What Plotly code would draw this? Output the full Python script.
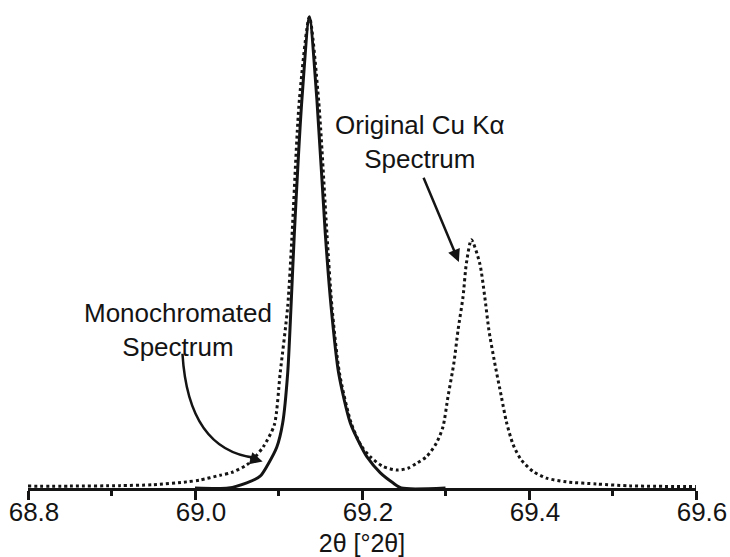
import plotly.graph_objects as go

# Diffraction angle 2theta (deg) and relative intensity (%) for the unfiltered Cu K-alpha doublet
orig_x = [68.80, 68.85, 68.91, 68.95, 68.99, 69.006, 69.03, 69.044, 69.062, 69.072,
          69.082, 69.095, 69.102, 69.111, 69.116, 69.125, 69.137, 69.148, 69.158, 69.164,
          69.173, 69.187, 69.199, 69.210, 69.225, 69.242, 69.255, 69.265, 69.277, 69.289,
          69.297, 69.303, 69.310, 69.315, 69.321, 69.325, 69.331, 69.341, 69.347, 69.352,
          69.359, 69.367, 69.373, 69.381, 69.391, 69.405, 69.421, 69.445, 69.481,
          69.521, 69.60]
orig_y = [0.4, 0.4, 0.5, 0.7, 1.3, 1.7, 2.7, 3.3, 4.9, 6.6,
          8.8, 13.4, 24.4, 38.5, 53.0, 82.4, 100, 82.4, 54.0, 38.5,
          24.4, 13.8, 9.0, 6.6, 4.6, 3.8, 4.2, 5.2, 6.6, 9.5,
          13.0, 19.4, 26.5, 33.5, 40.6, 47.7, 52.7, 47.7, 40.6, 33.5,
          26.5, 19.3, 14.0, 9.2, 5.9, 3.5, 2.1, 1.3, 0.85,
          0.45, 0.3]

# Monochromated (K-alpha1 only) profile
mono_x = [69.00, 69.040, 69.062, 69.078, 69.087, 69.098, 69.105, 69.111, 69.115, 69.119,
          69.128, 69.137, 69.146, 69.156, 69.163, 69.172, 69.186, 69.199, 69.206, 69.222,
          69.237, 69.247, 69.30]
mono_y = [0, 0, 1.1, 2.5, 4.9, 8.7, 13.8, 24.4, 38.5, 54.1,
          82.4, 100, 82.4, 54.1, 38.5, 24.4, 13.8, 8.8, 6.6, 3.2,
          1.1, 0, 0]

x_range = [68.8, 69.6]
tick_vals = [68.8, 69.0, 69.2, 69.4, 69.6]
tick_text = ["68.8", "69.0", "69.2", "69.4", "69.6"]

INK = "#141414"
FONT = "Liberation Sans, Arial, sans-serif"

fig = go.Figure()
fig.add_trace(go.Scatter(
    x=orig_x, y=orig_y, mode="lines",
    line=dict(color=INK, width=3, dash="dot", shape="spline", smoothing=0.7),
    showlegend=False, hoverinfo="skip"))
fig.add_trace(go.Scatter(
    x=mono_x, y=mono_y, mode="lines",
    line=dict(color=INK, width=3, shape="spline", smoothing=0.7),
    showlegend=False, hoverinfo="skip"))
# carrier trace so the tick/line axis is drawn
fig.add_trace(go.Scatter(
    x=x_range, y=[0, 0], xaxis="x2", mode="lines",
    line=dict(color="rgba(0,0,0,0)", width=0),
    showlegend=False, hoverinfo="skip"))

# Labels
fig.add_annotation(x=69.270, y=73.5, xref="x", yref="y",
                   text="Original Cu K\u03b1<br>Spectrum", showarrow=False,
                   font=dict(family=FONT, size=26, color=INK), align="center")
fig.add_annotation(x=68.980, y=33.6, xref="x", yref="y",
                   text="Monochromated<br>Spectrum", showarrow=False,
                   font=dict(family=FONT, size=26, color=INK), align="center")

# Straight arrow to the K-alpha2 peak
fig.add_annotation(x=69.316, y=48.0, ax=69.273, ay=66.2, xref="x", yref="y",
                   axref="x", ayref="y", text="", showarrow=True,
                   arrowhead=2, arrowsize=1, arrowwidth=2.5, arrowcolor=INK, standoff=0)

# Curved arrow to the monochromated tail
fig.add_shape(type="path", xref="x", yref="y",
              path="M 68.985,28.5 Q 68.992,8.1 69.072,6.4",
              line=dict(color=INK, width=2.5))
fig.add_annotation(x=69.081, y=5.6, ax=-14, ay=-4, xref="x", yref="y",
                   text="", showarrow=True, arrowhead=2, arrowsize=1,
                   arrowwidth=2.5, arrowcolor=INK, standoff=0)

# Label axis: numbers and title only (its own ticks are transparent spacers)
fig.update_layout(xaxis=dict(
    range=x_range, tickvals=tick_vals, ticktext=tick_text,
    showline=False, ticks="outside", ticklen=1, tickcolor="rgba(0,0,0,0)",
    ticklabelshift=6, ticklabeloverflow="allow",
    showgrid=False, zeroline=False,
    tickfont=dict(family=FONT, size=26, color=INK),
    title=dict(text="2\u03b8 [\u00b02\u03b8]", standoff=8,
               font=dict(family=FONT, size=25, color=INK))))

# Line-and-tick axis drawn on top of the same range
fig.update_layout(xaxis2=dict(
    range=x_range, overlaying="x", anchor="y", side="bottom",
    tickvals=tick_vals, showticklabels=False,
    showline=True, linewidth=3, linecolor=INK,
    ticks="outside", ticklen=9, tickwidth=2.5, tickcolor=INK,
    minor=dict(dtick=0.1, ticks="outside", ticklen=5, tickwidth=2.5, tickcolor=INK),
    showgrid=False, zeroline=False))

fig.update_yaxes(range=[0, 103.6], visible=False, showgrid=False, zeroline=False)

fig.update_layout(
    width=730, height=557,
    margin=dict(l=28, r=34, t=0, b=69),
    paper_bgcolor="white", plot_bgcolor="white")

fig.write_html("out.html")
